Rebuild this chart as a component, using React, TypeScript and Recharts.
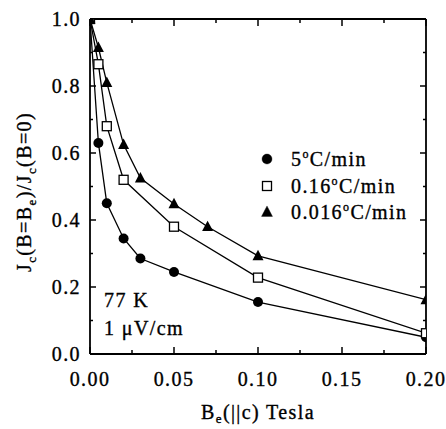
import { LineChart, Line, XAxis, YAxis, Customized } from "recharts";

// 5 °C/min (circles)
const fastB = [0, 0.005, 0.01, 0.02, 0.03, 0.05, 0.1, 0.2];
const fastJ = [1.0, 0.63, 0.45, 0.345, 0.285, 0.245, 0.155, 0.05];
// 0.16 °C/min (open squares)
const midB = [0, 0.005, 0.01, 0.02, 0.05, 0.1, 0.2];
const midJ = [1.0, 0.865, 0.68, 0.52, 0.38, 0.228, 0.062];
// 0.016 °C/min (triangles)
const slowB = [0, 0.005, 0.01, 0.02, 0.03, 0.05, 0.07, 0.1, 0.2];
const slowJ = [1.0, 0.915, 0.81, 0.625, 0.525, 0.448, 0.38, 0.293, 0.162];

const seriesNames = ["5", "0.16", "0.016"];
const xTicks = [0, 0.025, 0.05, 0.075, 0.1, 0.125, 0.15, 0.175, 0.2];
const xLabels = [0, 0.05, 0.1, 0.15, 0.2];
const yTicks = [0, 0.1, 0.2, 0.3, 0.4, 0.5, 0.6, 0.7, 0.8, 0.9, 1.0];
const yLabels = [0, 0.2, 0.4, 0.6, 0.8, 1.0];

const font = "Liberation Serif";
const fs = 20;
const ls = 1.4;
// scanned original has heavy strokes
const ink = { fill: "#000", stroke: "#000", strokeWidth: 0.35 };

const zip = (xs: number[], ys: number[]) => xs.map((x, i) => ({ b: x, j: ys[i] }));
const isLabel = (v: number, list: number[]) => list.some((l) => Math.abs(l - v) < 1e-9);

const Circle = ({ cx, cy, r = 5 }: any) => <circle cx={cx} cy={cy} r={r} fill="#000" />;
const Square = ({ cx, cy, s = 9 }: any) => (
  <rect x={cx - s / 2} y={cy - s / 2} width={s} height={s} fill="#fff" stroke="#000" strokeWidth={1.3} />
);
const Tri = ({ cx, cy, s = 11 }: any) => (
  <polygon
    points={`${cx},${cy - s * 0.55} ${cx - s / 2},${cy + s * 0.4} ${cx + s / 2},${cy + s * 0.4}`}
    fill="#000"
  />
);

const BottomTick = ({ x, y, payload }: any) => {
  const major = isLabel(payload.value, xLabels);
  return (
    <g>
      <line x1={x} y1={y} x2={x} y2={y - (major ? 7 : 4)} stroke="#000" strokeWidth={1.5} />
      {major && (
        <text x={x} y={y + 32} textAnchor="middle" fontFamily={font} fontSize={fs} letterSpacing={ls} {...ink}>
          {payload.value.toFixed(2)}
        </text>
      )}
    </g>
  );
};
const TopTick = ({ x, y, payload }: any) => {
  const major = isLabel(payload.value, xLabels);
  return <line x1={x} y1={y} x2={x} y2={y + (major ? 7 : 4)} stroke="#000" strokeWidth={1.5} />;
};
const LeftTick = ({ x, y, payload }: any) => {
  const major = isLabel(payload.value, yLabels);
  return (
    <g>
      <line x1={x} y1={y} x2={x + (major ? 6 : 3)} y2={y} stroke="#000" strokeWidth={1.5} />
      {major && (
        <text x={x - 9} y={y + 7} textAnchor="end" fontFamily={font} fontSize={fs} letterSpacing={ls} {...ink}>
          {payload.value.toFixed(1)}
        </text>
      )}
    </g>
  );
};
const RightTick = ({ x, y, payload }: any) => {
  const major = isLabel(payload.value, yLabels);
  return <line x1={x} y1={y} x2={x - (major ? 6 : 3)} y2={y} stroke="#000" strokeWidth={1.5} />;
};

const Extras = () => (
  <g fontFamily={font} fontSize={fs} letterSpacing={ls} {...ink}>
    {/* legend */}
    <Circle cx={267} cy={159} />
    <Square cx={267} cy={186} />
    <Tri cx={267} cy={212} />
    {seriesNames.map((n, i) => (
      <text key={n} x={291} y={166 + i * 26.5}>
        {n}
        <tspan dy={-8} fontSize={12}>o</tspan>
        <tspan dy={8}>C/min</tspan>
      </text>
    ))}
    <text x={104} y={307}>77 K</text>
    <text x={104} y={335}>1 μV/cm</text>
    {/* axis titles */}
    <text transform="translate(31,192) rotate(-90)" textAnchor="middle">
      J<tspan dy={5} fontSize={13}>c</tspan>
      <tspan dy={-5}>(B=B</tspan>
      <tspan dy={5} fontSize={13}>e</tspan>
      <tspan dy={-5}>)/J</tspan>
      <tspan dy={5} fontSize={13}>c</tspan>
      <tspan dy={-5}>(B=0)</tspan>
    </text>
    <text x={258} y={419} textAnchor="middle">
      B<tspan dy={4} fontSize={13}>e</tspan>
      <tspan dy={-4}>(||c) Tesla</tspan>
    </text>
  </g>
);

const axisStyle = { stroke: "#000", strokeWidth: 1.8 };

export default function App() {
  return (
    <div style={{ position: "absolute", left: 0, top: 0, background: "#fff" }}>
      <LineChart width={446} height={429} margin={{ top: 18, right: 19, left: 89, bottom: 74 }}>
        <XAxis
          xAxisId="b"
          dataKey="b"
          type="number"
          domain={[0, 0.2]}
          ticks={xTicks}
          interval={0}
          height={1}
          tickSize={0}
          tickMargin={0}
          tick={<BottomTick />}
          axisLine={axisStyle}
          allowDataOverflow
        />
        <XAxis
          xAxisId="t"
          orientation="top"
          dataKey="b"
          type="number"
          domain={[0, 0.2]}
          ticks={xTicks}
          interval={0}
          height={1}
          tickSize={0}
          tickMargin={0}
          tick={<TopTick />}
          axisLine={axisStyle}
          allowDataOverflow
        />
        <YAxis
          yAxisId="l"
          type="number"
          domain={[0, 1]}
          ticks={yTicks}
          interval={0}
          width={1}
          tickSize={0}
          tickMargin={0}
          tick={<LeftTick />}
          axisLine={axisStyle}
          allowDataOverflow
        />
        <YAxis
          yAxisId="r"
          orientation="right"
          type="number"
          domain={[0, 1]}
          ticks={yTicks}
          interval={0}
          width={1}
          tickSize={0}
          tickMargin={0}
          tick={<RightTick />}
          axisLine={axisStyle}
          allowDataOverflow
        />
        <Line
          xAxisId="b"
          yAxisId="l"
          data={zip(fastB, fastJ)}
          dataKey="j"
          type="linear"
          stroke="#000"
          strokeWidth={1.3}
          dot={(p: any) => <Circle key={p.index} cx={p.cx} cy={p.cy} />}
          isAnimationActive={false}
        />
        <Line
          xAxisId="b"
          yAxisId="l"
          data={zip(midB, midJ)}
          dataKey="j"
          type="linear"
          stroke="#000"
          strokeWidth={1.3}
          dot={(p: any) => <Square key={p.index} cx={p.cx} cy={p.cy} />}
          isAnimationActive={false}
        />
        <Line
          xAxisId="b"
          yAxisId="l"
          data={zip(slowB, slowJ)}
          dataKey="j"
          type="linear"
          stroke="#000"
          strokeWidth={1.3}
          dot={(p: any) => <Tri key={p.index} cx={p.cx} cy={p.cy} />}
          isAnimationActive={false}
        />
        <Customized component={Extras} />
      </LineChart>
    </div>
  );
}
